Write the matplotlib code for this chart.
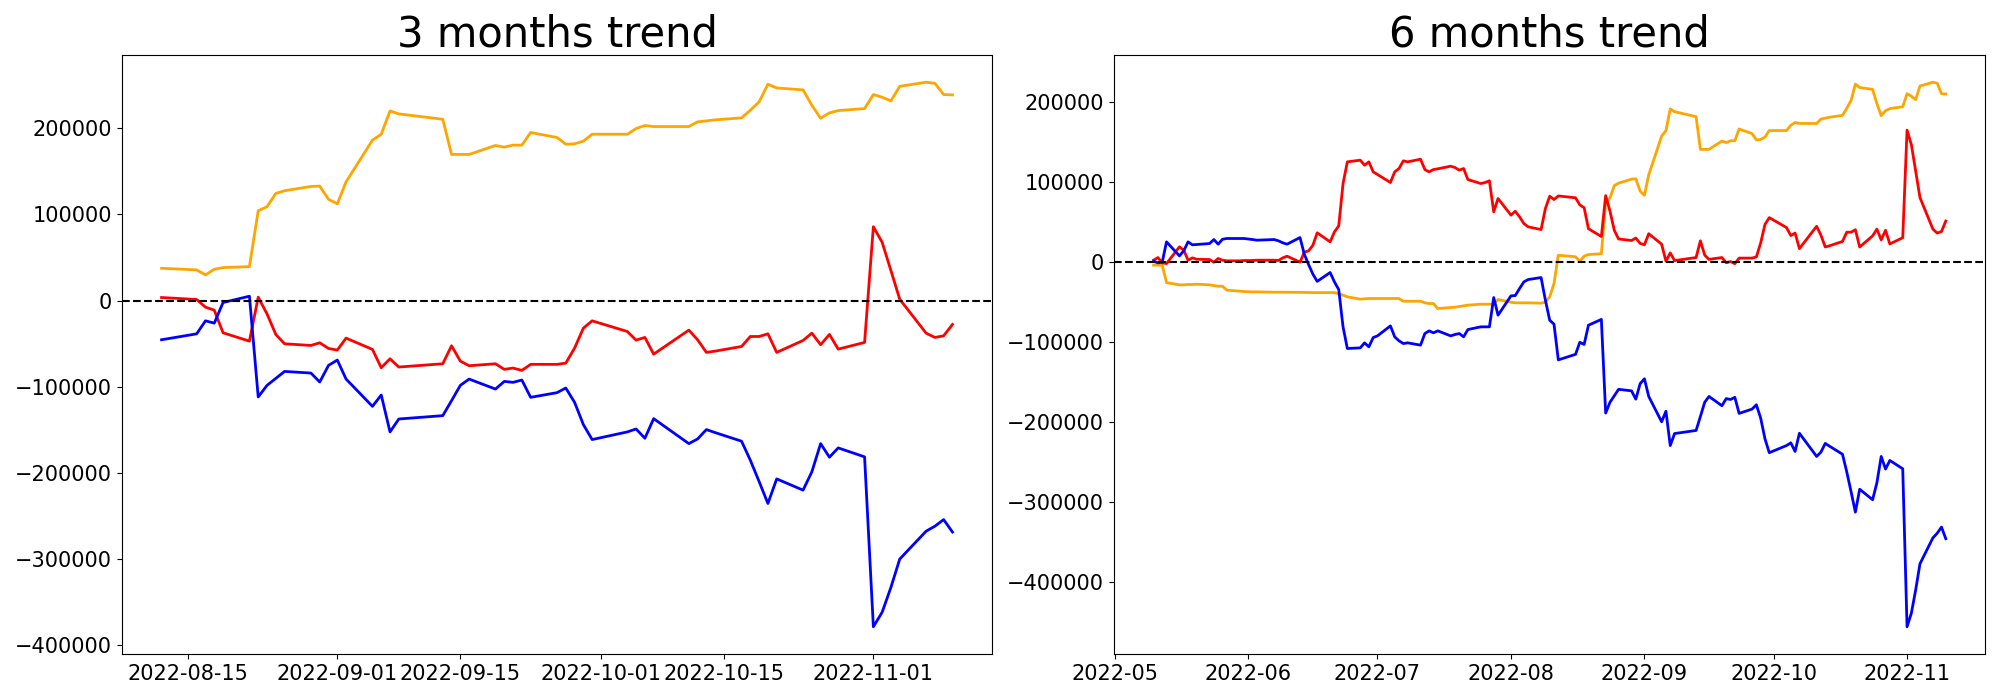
import matplotlib
matplotlib.use("Agg")
import matplotlib.pyplot as plt
import matplotlib.dates as mdates
import pandas as pd

# ---------------- 3 months window ----------------
DATES_3M = ["2022-08-12","2022-08-16","2022-08-17","2022-08-18","2022-08-19",
            "2022-08-22","2022-08-23","2022-08-24","2022-08-25","2022-08-26",
            "2022-08-29","2022-08-30","2022-08-31","2022-09-01","2022-09-02",
            "2022-09-05","2022-09-06","2022-09-07","2022-09-08","2022-09-13",
            "2022-09-14","2022-09-15","2022-09-16","2022-09-19","2022-09-20",
            "2022-09-21","2022-09-22","2022-09-23","2022-09-26","2022-09-27",
            "2022-09-28","2022-09-29","2022-09-30","2022-10-04","2022-10-05",
            "2022-10-06","2022-10-07","2022-10-11","2022-10-12","2022-10-13",
            "2022-10-14","2022-10-17","2022-10-18","2022-10-19","2022-10-20",
            "2022-10-21","2022-10-24","2022-10-25","2022-10-26","2022-10-27",
            "2022-10-28","2022-10-31","2022-11-01","2022-11-02","2022-11-03",
            "2022-11-04","2022-11-07","2022-11-08","2022-11-09","2022-11-10"]

ORANGE_3M = [37500, 35600, 29800, 36300, 38300, 39400, 104400, 109000, 124500, 127600,
             132600, 133000, 117600, 112500, 138000, 186400, 193300, 220400, 216900, 210700,
             169800, 169800, 169800, 180200, 178300, 180600, 180600, 195300, 189500, 181700,
             182100, 185200, 193300, 193300, 199900, 203400, 202200, 202200, 207700, 208800,
             210000, 212300, 221200, 230900, 251400, 247100, 244800, 227000, 211900, 218100,
             220800, 223100, 239400, 236300, 232000, 249000, 253700, 252500, 239400, 239000]

RED_3M = [3500, 1200, -7700, -11200, -37500, -47200, 3900, -15500, -39400, -50300,
          -52200, -49100, -55700, -57600, -43700, -56800, -78100, -67700, -77300, -73500,
          -52600, -70400, -75800, -73500, -80000, -78500, -81200, -74200, -74200, -72700,
          -55300, -32100, -23600, -36000, -46000, -42900, -62300, -34400, -45600, -60300,
          -58800, -53400, -41800, -41800, -38700, -60300, -46400, -37900, -51400, -39400,
          -56500, -48700, 85800, 67700, 34800, 1500, -37900, -42900, -41000, -27800]

BLUE_3M = [-45600, -38700, -23600, -26300, -2300, 5000, -112100, -98600, -90500, -82400,
           -84300, -94700, -75400, -69200, -91300, -123000, -109800, -152700, -137700, -133800,
           -116400, -98600, -91300, -102900, -94000, -95100, -92400, -112500, -107100, -101700,
           -118300, -144200, -161600, -152700, -149300, -160100, -137300, -166300, -160900, -150000,
           -153500, -163500, -185600, -210400, -235900, -207300, -220400, -199100, -166300, -182100,
           -171300, -181700, -379200, -362300, -333300, -300500, -268100, -262300, -254600, -269100]

# ---------------- 6 months window ----------------
DATES_6M_EARLY = ["2022-05-10","2022-05-11","2022-05-12","2022-05-13","2022-05-16",
                  "2022-05-17","2022-05-18","2022-05-19","2022-05-20","2022-05-23",
                  "2022-05-24","2022-05-25","2022-05-26","2022-05-27","2022-05-30",
                  "2022-05-31","2022-06-02","2022-06-03","2022-06-07","2022-06-08",
                  "2022-06-09","2022-06-10","2022-06-13","2022-06-14","2022-06-15",
                  "2022-06-16","2022-06-17","2022-06-20","2022-06-21","2022-06-22",
                  "2022-06-23","2022-06-24","2022-06-27","2022-06-28","2022-06-29",
                  "2022-06-30","2022-07-01","2022-07-04","2022-07-05","2022-07-06",
                  "2022-07-07","2022-07-08","2022-07-11","2022-07-12","2022-07-13",
                  "2022-07-14","2022-07-15","2022-07-18","2022-07-19","2022-07-20",
                  "2022-07-21","2022-07-22","2022-07-25","2022-07-26","2022-07-27",
                  "2022-07-28","2022-07-29","2022-08-01","2022-08-02","2022-08-03",
                  "2022-08-04","2022-08-05","2022-08-08","2022-08-09","2022-08-10",
                  "2022-08-11"]
DATES_6M = DATES_6M_EARLY + DATES_3M

ORANGE_6M = [-3700, -3700, -3700, -25500, -28300, -28300, -27900, -27900, -27500, -28300,
             -29200, -30000, -30000, -35000, -36200, -36700,
             -37100, -37100, -37500, -37500, -37500, -37600, -37700, -37800, -37900, -38000,
             -38000, -38000, -38000, -39600, -41200, -43300, -46200, -45800, -45400, -45400,
             -45400, -45400, -45400, -45400, -48800, -48800, -48800, -50800, -51700, -51700,
             -57900, -56700, -56200, -55400, -54600, -53700, -52500, -52500, -52500, -52500,
             -46700, -50000, -50800, -50800, -50800, -50800, -51200, -50000, -43300, -26700,
             8700, 6800, 1000, 7500, 9500, 10600, 75600, 80200, 95700, 98800,
             103800, 104200, 88800, 83700, 109200, 157600, 164500, 191600, 188100, 181900,
             141000, 141000, 141000, 151400, 149500, 151800, 151800, 166500, 160700, 152900,
             153300, 156400, 164500, 164500, 171100, 174600, 173400, 173400, 178900, 180000,
             181200, 183500, 192400, 202100, 222600, 218300, 216000, 198200, 183100, 189300,
             192000, 194300, 210600, 207500, 203200, 220200, 224900, 223700, 210600, 210200]

RED_6M = [2500, 5800, -800, -1700, 19200, 15000, 2500, 5400, 3700, 3300,
          0, 4600, 2500, 1700, 1700, 2100,
          2100, 2500, 2500, 2100, 5400, 7500, 0, 12500, 14200, 21200,
          36700, 25400, 37900, 45400, 98300, 125400, 127500, 121200, 125400, 112900,
          109600, 99600, 112900, 117100, 126700, 125400, 128700, 115800, 112900, 115800,
          116700, 120000, 118300, 115000, 117100, 103300, 98300, 99600, 101700, 62900,
          79600, 58800, 63700, 56700, 48300, 44200, 40800, 67100, 82500, 78300,
          82800, 80500, 71600, 68100, 41800, 32100, 83200, 63800, 39900, 29000,
          27100, 30200, 23600, 21700, 35600, 22500, 1200, 11600, 2000, 5800,
          26700, 8900, 3500, 5800, -700, 800, -1900, 5100, 5100, 6600,
          24000, 47200, 55700, 43300, 33300, 36400, 17000, 44900, 33700, 19000,
          20500, 25900, 37500, 37500, 40600, 19000, 32900, 41400, 27900, 39900,
          22800, 30600, 165100, 147000, 114100, 80800, 41400, 36400, 38300, 51500]

BLUE_6M = [1200, -800, 0, 25400, 7900, 14200, 25400, 21700, 22100, 23300,
           28300, 22500, 28700, 29600, 29600, 29600,
           28300, 27500, 28300, 26700, 24200, 22500, 30800, 10000, -3000, -15000,
           -24000, -12900, -24600, -34200, -80800, -107900, -107100, -100800, -105800, -94200,
           -92100, -79600, -93300, -98300, -101700, -100800, -103700, -89200, -85800, -88300,
           -85800, -92100, -90400, -89200, -93300, -84200, -80800, -80800, -80800, -44200,
           -66200, -42100, -41700, -32900, -24600, -21700, -19200, -47500, -72500, -77500,
           -122100, -115200, -100100, -102800, -78800, -71500, -188600, -175100, -167000, -158900,
           -160800, -171200, -151900, -145700, -167800, -199500, -186300, -229200, -214200, -210300,
           -192900, -175100, -167800, -179400, -170500, -171600, -168900, -189000, -183600, -178200,
           -194800, -220700, -238100, -229200, -225800, -236600, -213800, -242800, -237400, -226500,
           -230000, -240000, -262100, -286900, -312400, -283800, -296900, -275600, -242800, -258600,
           -247800, -258200, -455700, -438800, -409800, -377000, -344600, -338800, -331100, -345600]

TITLES = ["3 months trend", "6 months trend"]
COLORS = ["orange", "red", "blue"]

fig = plt.figure(figsize=(20, 7), dpi=100)
ax1 = fig.add_axes([0.061, 0.0657, 0.435, 0.8557])
ax2 = fig.add_axes([0.557, 0.0657, 0.4357, 0.8557])

panels = [
    (ax1, DATES_3M, [ORANGE_3M, RED_3M, BLUE_3M], TITLES[0],
     mdates.DayLocator(bymonthday=[1, 15]), "%Y-%m-%d"),
    (ax2, DATES_6M, [ORANGE_6M, RED_6M, BLUE_6M], TITLES[1],
     mdates.MonthLocator(), "%Y-%m"),
]

for ax, dates, series, title, locator, fmt in panels:
    x = pd.to_datetime(dates)
    for vals, c in zip(series, COLORS):
        ax.plot(x, vals, color=c, linewidth=2.0)
    ax.axhline(0, color="black", linestyle="--", linewidth=1.5)
    ax.set_title(title, fontsize=30)
    ax.xaxis.set_major_locator(locator)
    ax.xaxis.set_major_formatter(mdates.DateFormatter(fmt))
    ax.tick_params(axis="both", labelsize=15)

fig.savefig("out.png", dpi=100, facecolor="white")
